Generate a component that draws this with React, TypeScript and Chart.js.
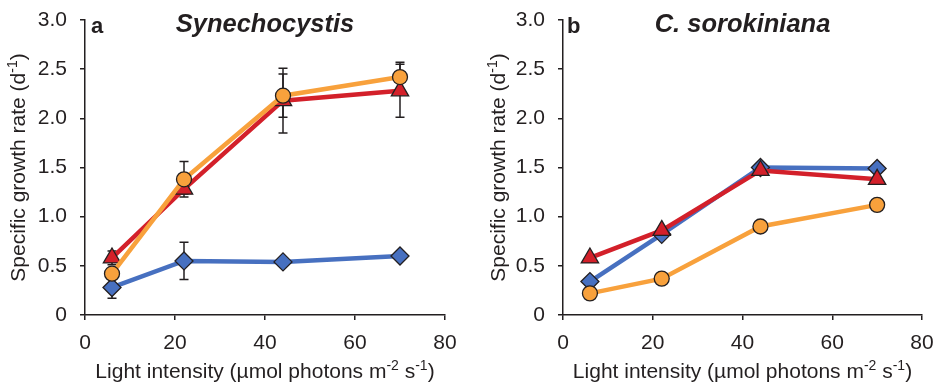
import React, { useEffect, useRef } from 'react';
import { Chart, registerables } from 'chart.js';

Chart.register(...registerables);

// ---- data ----
const lightLevels = [6, 22, 44, 70];
const xTickValues = [0, 20, 40, 60, 80];
const yTickValues = [0, 0.5, 1.0, 1.5, 2.0, 2.5, 3.0];

// Panel a: Synechocystis
const synBlue = [0.28, 0.55, 0.54, 0.6];
const synBlueErr = [0.11, 0.19, 0, 0];
const synRed = [0.58, 1.28, 2.18, 2.28];
const synRedErr = [0.07, 0.05, 0.33, 0.27];
const synOrange = [0.42, 1.38, 2.23, 2.42];
const synOrangeErr = [0.04, 0.18, 0.22, 0.15];

// Panel b: C. sorokiniana
const chlBlue = [0.34, 0.82, 1.5, 1.49];
const chlRed = [0.58, 0.86, 1.47, 1.38];
const chlOrange = [0.22, 0.37, 0.9, 1.12];

const panelLetters = ['a', 'b'];
const speciesNames = ['Synechocystis', 'C. sorokiniana'];

// ---- styles ----
const INK = '#231f20';
const BLUE = '#4770c0';
const RED = '#d3202a';
const ORANGE = '#f8a13c';
const FONT = "'Liberation Sans', Arial, Helvetica, sans-serif";

type Piece = { t: string; sup?: boolean };
const xTitle: Piece[] = [
  { t: 'Light intensity (\u00b5mol photons m' },
  { t: '-2', sup: true },
  { t: ' s' },
  { t: '-1', sup: true },
  { t: ')' },
];
const yTitle: Piece[] = [
  { t: 'Specific growth rate (d' },
  { t: '-1', sup: true },
  { t: ')' },
];

function drawPieces(ctx: CanvasRenderingContext2D, pieces: Piece[], size: number, startX: number, baseY: number, measureOnly = false) {
  let x = startX;
  for (const p of pieces) {
    const s = p.sup ? Math.round(size * 0.65) : size;
    ctx.font = `${s}px ${FONT}`;
    const w = ctx.measureText(p.t).width;
    if (!measureOnly) ctx.fillText(p.t, x, p.sup ? baseY - size * 0.38 : baseY);
    x += w;
  }
  return x - startX;
}

const errorBarPlugin = {
  id: 'errorBars',
  beforeDatasetsDraw(chart: any) {
    const ctx = chart.ctx;
    const xs = chart.scales.x;
    const ys = chart.scales.y;
    ctx.save();
    ctx.strokeStyle = INK;
    ctx.lineWidth = 1.5;
    chart.data.datasets.forEach((ds: any) => {
      if (!ds.errors) return;
      ds.data.forEach((pt: any, i: number) => {
        const e = ds.errors[i];
        if (!e) return;
        const px = xs.getPixelForValue(pt.x);
        const top = ys.getPixelForValue(pt.y + e);
        const bot = ys.getPixelForValue(pt.y - e);
        const cap = 4.5;
        ctx.beginPath();
        ctx.moveTo(px, top);
        ctx.lineTo(px, bot);
        ctx.moveTo(px - cap, top);
        ctx.lineTo(px + cap, top);
        ctx.moveTo(px - cap, bot);
        ctx.lineTo(px + cap, bot);
        ctx.stroke();
      });
    });
    ctx.restore();
  },
};

const textPlugin = {
  id: 'panelText',
  afterDraw(chart: any, _args: any, opts: any) {
    const ctx = chart.ctx;
    const a = chart.chartArea;
    ctx.save();
    ctx.fillStyle = INK;
    ctx.textBaseline = 'alphabetic';
    ctx.textAlign = 'left';
    // panel letter
    ctx.font = `bold 22px ${FONT}`;
    ctx.fillText(opts.letter, a.left + opts.letterDx, 33);
    // species
    ctx.font = `italic bold 25.5px ${FONT}`;
    ctx.textAlign = 'center';
    ctx.fillText(opts.species, (a.left + a.right) / 2, 32);
    ctx.textAlign = 'left';
    // x title
    const wx = drawPieces(ctx, xTitle, 21, 0, 0, true);
    drawPieces(ctx, xTitle, 21, (a.left + a.right) / 2 - wx / 2, a.bottom + 63);
    // y title
    const wy = drawPieces(ctx, yTitle, 21, 0, 0, true);
    ctx.translate(a.left - opts.yTitleDx, (a.top + a.bottom) / 2);
    ctx.rotate(-Math.PI / 2);
    drawPieces(ctx, yTitle, 21, -wy / 2, 0);
    ctx.restore();
  },
};

function pts(vals: number[]) {
  return vals.map((v, i) => ({ x: lightLevels[i], y: v }));
}

function makeDataset(vals: number[], color: string, style: string, radius: number, errors?: number[]) {
  return {
    data: pts(vals),
    borderColor: color,
    backgroundColor: color,
    borderWidth: 4.5,
    pointStyle: style,
    pointRadius: radius,
    pointBackgroundColor: color,
    pointBorderColor: INK,
    pointBorderWidth: 1.3,
    tension: 0,
    errors,
  };
}

function Panel({ idx, width, padRight, yWidth, yTitleDx, letterDx, series }: any) {
  const ref = useRef<HTMLCanvasElement>(null);
  useEffect(() => {
    const canvas = ref.current!;
    const tickFont = { family: FONT, size: 21 };
    const chart = new Chart(canvas, {
      type: 'line',
      data: { datasets: series },
      options: {
        animation: false,
        responsive: false,
        maintainAspectRatio: false,
        layout: { padding: { left: 0, top: 20, right: padRight, bottom: 0 } },
        plugins: {
          legend: { display: false },
          tooltip: { enabled: false },
          panelText: { letter: panelLetters[idx], species: speciesNames[idx], yTitleDx, letterDx },
        } as any,
        scales: {
          x: {
            type: 'linear',
            min: xTickValues[0],
            max: xTickValues[xTickValues.length - 1],
            afterBuildTicks: (s: any) => { s.ticks = xTickValues.map((v) => ({ value: v })); },
            ticks: { font: tickFont, color: INK, padding: 11, callback: (v: any) => String(v) },
            grid: { display: true, drawOnChartArea: false, drawTicks: true, tickLength: 5, color: INK, lineWidth: 1.5 },
            border: { display: true, color: INK, width: 1.5 },
            afterFit: (s: any) => { s.height = 71; s.paddingLeft = 0; s.paddingRight = 0; },
          },
          y: {
            type: 'linear',
            min: yTickValues[0],
            max: yTickValues[yTickValues.length - 1],
            afterBuildTicks: (s: any) => { s.ticks = yTickValues.map((v) => ({ value: v })); },
            ticks: { font: tickFont, color: INK, padding: 13, callback: (v: any) => (v === 0 ? '0' : Number(v).toFixed(1)) },
            grid: { display: true, drawOnChartArea: false, drawTicks: true, tickLength: 5, color: INK, lineWidth: 1.5 },
            border: { display: true, color: INK, width: 1.5 },
            afterFit: (s: any) => { s.width = yWidth; s.paddingTop = 0; s.paddingBottom = 0; },
          },
        },
      },
      plugins: [errorBarPlugin, textPlugin],
    } as any);
    return () => chart.destroy();
  }, []);
  return <canvas ref={ref} width={width} height={386} style={{ width, height: 386, display: 'block' }} />;
}

export default function App() {
  const seriesA = [
    makeDataset(synOrange, ORANGE, 'circle', 7.5, synOrangeErr),
    makeDataset(synRed, RED, 'triangle', 10, synRedErr),
    makeDataset(synBlue, BLUE, 'rectRot', 9, synBlueErr),
  ];
  const seriesB = [
    makeDataset(chlOrange, ORANGE, 'circle', 7.5),
    makeDataset(chlRed, RED, 'triangle', 10),
    makeDataset(chlBlue, BLUE, 'rectRot', 9),
  ];
  return (
    <div style={{ position: 'absolute', left: 0, top: 0, width: 937, height: 386, display: 'flex', background: '#fff' }}>
      <Panel idx={0} width={468} padRight={23} yWidth={85} yTitleDx={60} letterDx={6} series={seriesA} />
      <Panel idx={1} width={469} padRight={15} yWidth={95} yTitleDx={58} letterDx={4} series={seriesB} />
    </div>
  );
}
